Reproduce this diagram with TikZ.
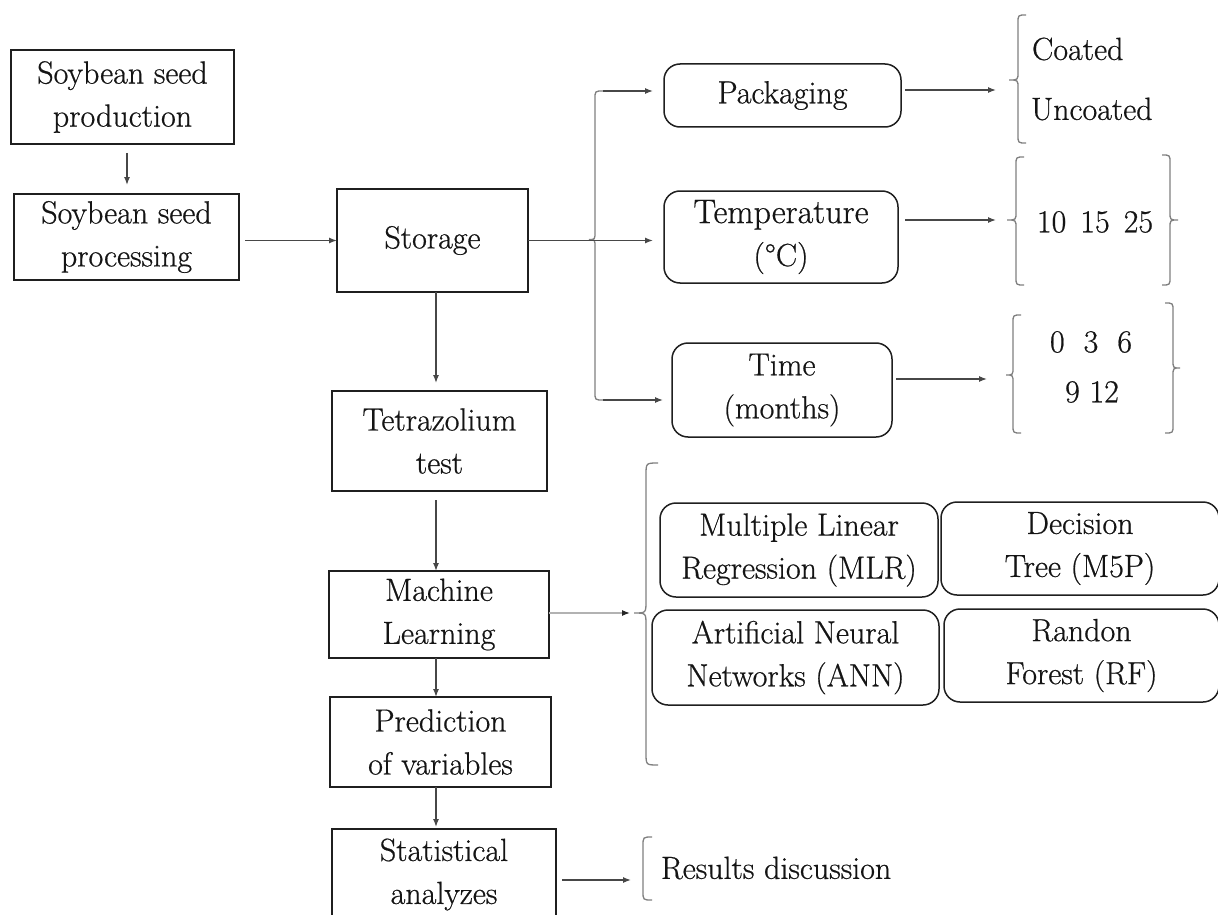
\documentclass[tikz,border=0pt]{standalone}
\usepackage{fontspec}
\newfontfamily\txtfont{Latin Modern Roman}[FakeBold=0.6]
\usetikzlibrary{arrows.meta}
\newcommand{\fsz}{\fontsize{32}{43}\selectfont}
% brace: spine x, top y, tip y, bottom y, tip x, end x, radius
\newcommand{\mybr}[7]{\draw[brc] (#6,#2) .. controls (#1,#2) .. (#1,{#2+#7}) -- (#1,{#3-#7}) .. controls (#1,#3) .. (#5,#3) .. controls (#1,#3) .. (#1,{#3+#7}) -- (#1,{#4-#7}) .. controls (#1,#4) .. (#6,#4);}
\begin{document}
\begin{tikzpicture}[x=1pt,y=-1pt,
  every node/.style={inner sep=0pt, outer sep=0pt, font=\txtfont\fsz, align=center, text=black!92},
  sqbox/.style={draw=black!88, line width=1.6pt},
  rbox/.style={draw=black!88, line width=1.5pt, rounded corners=16pt},
  arr/.style={draw=black!72, line width=1.3pt, -{Latex[length=8pt,width=6pt]}},
  mlarrow/.style={draw=black!30, line width=1.2pt, -{Latex[length=8pt,width=6pt,color=black!85]}},
  brc/.style={draw=black!50, line width=1.3pt}]
\path[fill=white, use as bounding box] (0,0) rectangle (1218,915);

% left column
\node[sqbox, minimum width=223pt, minimum height=94pt] (b1) at (122.5,97) {Soybean seed\\production};
\node[sqbox, minimum width=225pt, minimum height=86pt] (b2) at (126.5,237) {Soybean seed\\processing};
\node[sqbox, minimum width=191pt, minimum height=103pt] (st) at (432.5,240.5) {Storage};
\node[sqbox, minimum width=215pt, minimum height=100pt] (tz) at (439.5,441) {Tetrazolium\\test};
\node[sqbox, minimum width=220pt, minimum height=87pt] (ml) at (439,614.5) {Machine\\Learning};
\node[sqbox, minimum width=221pt, minimum height=90pt] (pv) at (440.5,742) {Prediction\\of variables};
\node[sqbox, minimum width=224pt, minimum height=91pt] (sa) at (444,874.5) {Statistical\\analyzes};

% factor boxes
\node[rbox, minimum width=237pt, minimum height=63pt] (pk) at (782.5,95.5) {Packaging};
\node[rbox, minimum width=234pt, minimum height=92pt] (tp) at (781,237) {\fontsize{34}{45}\selectfont Temperature\\(°C)};
\node[rbox, minimum width=220pt, minimum height=94pt] (tm) at (782,390) {Time\\(months)};

% model boxes
\node[rbox, minimum width=278pt, minimum height=94pt] (mlr) at (799,550) {Multiple Linear\\Regression (MLR)};
\node[rbox, minimum width=278pt, minimum height=93pt] (dt) at (1080,548.5) {Decision\\Tree (M5P)};
\node[rbox, minimum width=287pt, minimum height=95pt] (ann) at (795.5,657.5) {Artificial Neural\\Networks (ANN)};
\node[rbox, minimum width=275pt, minimum height=93pt] (rf) at (1081.5,655.5) {Randon\\Forest (RF)};

% level texts
\node[anchor=west] (co) at (1032,49) {Coated};
\node[anchor=west] (unc) at (1031,109) {Uncoated};
\node (tv) at (1095,222) {10\hspace{14pt}15\hspace{14pt}25};
\node (mv1) at (1091,342) {0\hspace{19pt}3\hspace{19pt}6};
\node (mv2) at (1092,392) {9 12};
\node[anchor=west] (rd) at (661,868) {Results discussion};

% coordinates
\coordinate (cx) at (436,0);
\coordinate (a1x) at (127,0);
\coordinate (sbtop) at (603,91);
\coordinate (sbbot) at (603,400);
\coordinate (cbarr) at (996,90);
\coordinate (tbarr) at (996,220);
\coordinate (mbarr) at (987,379);
\coordinate (mlarr) at (630,613);
\coordinate (rsarr) at (631,880);

% vertical flow
\draw[arr, shorten <=9pt, shorten >=9pt] (b1.south -| a1x) -- (b2.north -| a1x);
\draw[arr, shorten <=6pt] (b2.east |- st.west) -- (st.west);
\draw[arr, shorten >=8pt] (st.south -| cx) -- (tz.north -| cx);
\draw[arr, shorten <=9pt] (tz.south -| cx) -- (ml.north -| cx);
\draw[arr] (ml.south -| cx) -- (pv.north -| cx);
\draw[arr, shorten >=2pt] (pv.south -| cx) -- (sa.north -| cx);

% storage brace and arrows
\draw[brc] (sbtop) .. controls (595,91) .. (595,99) -- (595,231.5) .. controls (595,239.5) .. (589,239.5) .. controls (595,239.5) .. (595,247.5) -- (595,392) .. controls (595,400) .. (sbbot);
\draw[arr, shorten >=11pt] (st.east) -- (tp.west |- st.east);
\draw[arr, shorten >=11pt] (sbtop) -- (pk.west |- sbtop);
\draw[arr, shorten >=9pt] (sbbot) -- (tm.west |- sbbot);

% factor arrows
\draw[arr, shorten <=4pt] (pk.east |- cbarr) -- (cbarr);
\draw[arr, shorten <=7pt] (tp.east |- tbarr) -- (tbarr);
\draw[arr, shorten <=4pt] (tm.east |- mbarr) -- (mbarr);

% level braces
\mybr{1018}{15}{80}{143}{1009}{1026}{8}
\mybr{1016}{157}{220}{285}{1007}{1024}{8}
\mybr{1170}{155}{220}{285}{1178}{1162}{8}
\mybr{1013}{315}{375}{433}{1006}{1021}{8}
\mybr{1173}{303}{368}{433}{1180}{1165}{8}

% machine learning brace
\draw[mlarrow] (ml.east |- mlarr) -- (mlarr);
\mybr{646}{463}{613}{765}{634}{658}{12}

% results
\draw[arr, shorten <=6pt] (sa.east |- rsarr) -- (rsarr);
\draw[brc] (652,837) .. controls (643,837) .. (643,846) -- (643,891) .. controls (643,900) .. (652,900);
\end{tikzpicture}
\end{document}
